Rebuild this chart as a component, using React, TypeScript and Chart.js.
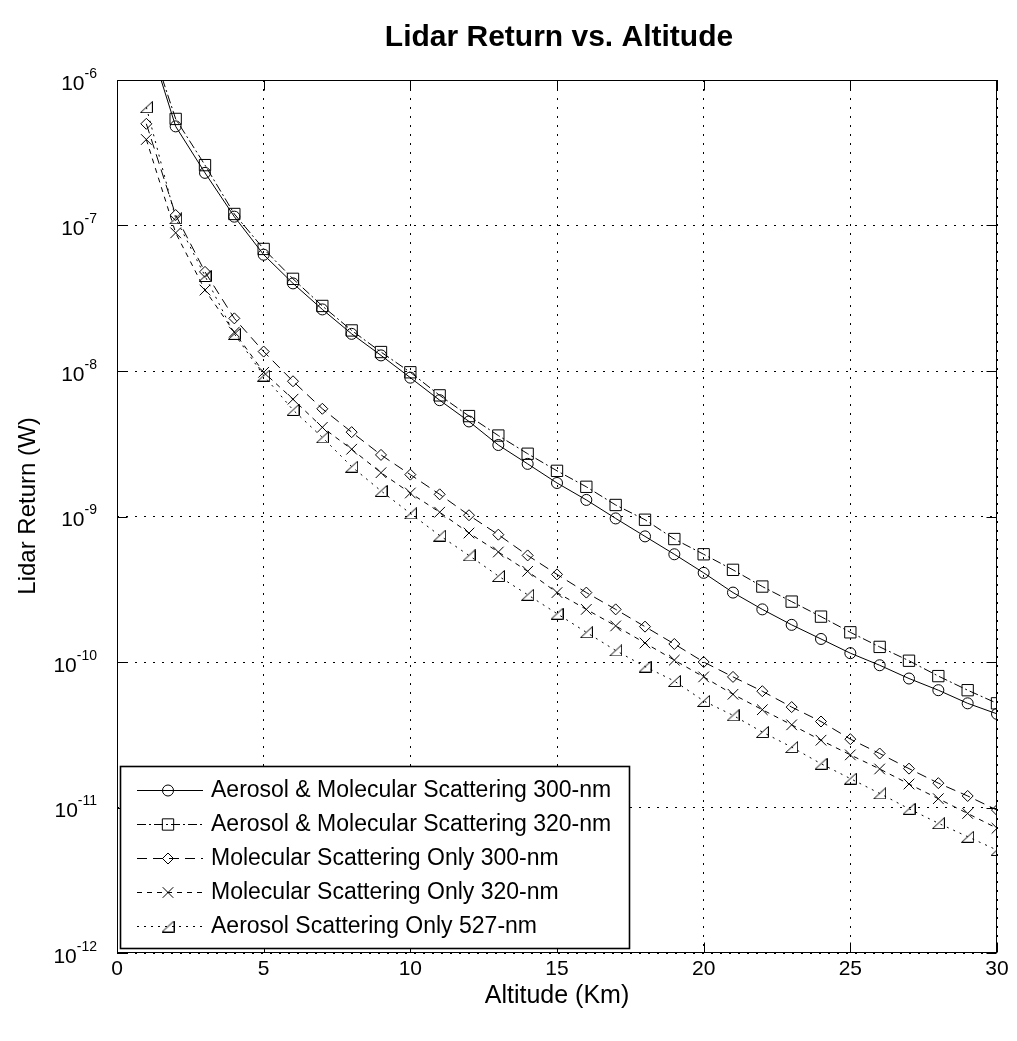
import React, { useEffect, useRef } from 'react';
import { Chart, registerables } from 'chart.js';

Chart.register(...registerables);

// Altitude samples (km)
const altitudeKm = [
  1, 2, 3, 4, 5, 6, 7, 8, 9, 10, 11, 12, 13, 14, 15,
  16, 17, 18, 19, 20, 21, 22, 23, 24, 25, 26, 27, 28, 29, 30,
];

// Lidar return (W) per series
const aeroMol300 = [
  2.1e-6, 4.8e-7, 2.3e-7, 1.15e-7, 6.3e-8, 4.0e-8, 2.65e-8, 1.8e-8, 1.28e-8, 9.0e-9,
  6.3e-9, 4.5e-9, 3.1e-9, 2.3e-9, 1.7e-9, 1.3e-9, 9.7e-10, 7.3e-10, 5.5e-10, 4.1e-10,
  3.0e-10, 2.3e-10, 1.8e-10, 1.44e-10, 1.15e-10, 9.5e-11, 7.7e-11, 6.4e-11, 5.2e-11, 4.4e-11,
];
const aeroMol320 = [
  2.2e-6, 5.4e-7, 2.6e-7, 1.2e-7, 6.9e-8, 4.3e-8, 2.8e-8, 1.9e-8, 1.35e-8, 9.8e-9,
  6.8e-9, 4.9e-9, 3.6e-9, 2.7e-9, 2.06e-9, 1.6e-9, 1.2e-9, 9.5e-10, 7.0e-10, 5.5e-10,
  4.3e-10, 3.3e-10, 2.6e-10, 2.05e-10, 1.6e-10, 1.27e-10, 1.02e-10, 8.0e-11, 6.4e-11, 5.2e-11,
];
const molOnly300 = [
  5.0e-7, 1.18e-7, 4.8e-8, 2.3e-8, 1.36e-8, 8.5e-9, 5.5e-9, 3.8e-9, 2.65e-9, 1.94e-9,
  1.42e-9, 1.02e-9, 7.5e-10, 5.4e-10, 4.0e-10, 3.0e-10, 2.3e-10, 1.75e-10, 1.33e-10, 1.0e-10,
  7.9e-11, 6.3e-11, 4.9e-11, 3.9e-11, 2.95e-11, 2.35e-11, 1.85e-11, 1.47e-11, 1.2e-11, 9.6e-12,
];
const molOnly320 = [
  3.9e-7, 8.9e-8, 3.6e-8, 1.85e-8, 9.8e-9, 6.4e-9, 4.1e-9, 2.9e-9, 2.0e-9, 1.45e-9,
  1.07e-9, 7.7e-10, 5.7e-10, 4.2e-10, 3.0e-10, 2.3e-10, 1.77e-10, 1.35e-10, 1.03e-10, 7.9e-11,
  6.0e-11, 4.7e-11, 3.7e-11, 2.9e-11, 2.3e-11, 1.84e-11, 1.45e-11, 1.15e-11, 9.1e-12, 7.2e-12,
];
const aeroOnly527 = [
  6.5e-7, 1.12e-7, 4.5e-8, 1.8e-8, 9.3e-9, 5.4e-9, 3.5e-9, 2.2e-9, 1.5e-9, 1.05e-9,
  7.4e-10, 5.4e-10, 3.9e-10, 2.9e-10, 2.15e-10, 1.6e-10, 1.2e-10, 9.3e-11, 7.4e-11, 5.4e-11,
  4.3e-11, 3.3e-11, 2.6e-11, 2.0e-11, 1.58e-11, 1.25e-11, 9.8e-12, 7.8e-12, 6.3e-12, 5.1e-12,
];

const seriesLabels = [
  'Aerosol & Molecular Scattering 300-nm',
  'Aerosol & Molecular Scattering 320-nm',
  'Molecular Scattering Only 300-nm',
  'Molecular Scattering Only 320-nm',
  'Aerosol Scattering Only 527-nm',
];
const seriesValues = [aeroMol300, aeroMol320, molOnly300, molOnly320, aeroOnly527];

// Axis ticks
const xTickValues = [0, 5, 10, 15, 20, 25, 30];
const yTickExponents = [-12, -11, -10, -9, -8, -7, -6];

const chartTitle = 'Lidar Return vs. Altitude';
const xAxisTitle = 'Altitude (Km)';
const yAxisTitle = 'Lidar Return (W)';

// Marker and line styling per series
const seriesStyles = [
  { marker: 'circle', radius: 5.5, dash: [] as number[] },
  { marker: 'rect', radius: 8, dash: [9, 3, 2, 3] },
  { marker: 'rectRot', radius: 5.5, dash: [10, 6] },
  { marker: 'crossRot', radius: 7.5, dash: [5, 5] },
  { marker: 'tri', radius: 6, dash: [2, 5] },
];

const FONT = '"Liberation Sans", Arial, Helvetica, sans-serif';
const INK = '#000';

function makeTriangleMarker(): HTMLCanvasElement {
  const c = document.createElement('canvas');
  c.width = 13;
  c.height = 12;
  const g = c.getContext('2d')!;
  g.strokeStyle = INK;
  g.lineWidth = 1;
  g.beginPath();
  g.moveTo(0.5, 11.5);
  g.lineTo(12.5, 11.5);
  g.lineTo(12.5, 0.5);
  g.closePath();
  g.stroke();
  return c;
}

function drawMarker(
  ctx: CanvasRenderingContext2D,
  kind: string,
  r: number,
  x: number,
  y: number,
  tri: HTMLCanvasElement
) {
  ctx.save();
  ctx.setLineDash([]);
  ctx.strokeStyle = INK;
  ctx.lineWidth = 1;
  ctx.beginPath();
  if (kind === 'circle') {
    ctx.arc(x, y, r, 0, Math.PI * 2);
    ctx.stroke();
  } else if (kind === 'rect') {
    const h = r * Math.SQRT1_2;
    ctx.rect(x - h, y - h, 2 * h, 2 * h);
    ctx.stroke();
  } else if (kind === 'rectRot') {
    ctx.moveTo(x, y - r);
    ctx.lineTo(x + r, y);
    ctx.lineTo(x, y + r);
    ctx.lineTo(x - r, y);
    ctx.closePath();
    ctx.stroke();
  } else if (kind === 'crossRot') {
    const d = r * Math.SQRT1_2;
    ctx.moveTo(x - d, y - d);
    ctx.lineTo(x + d, y + d);
    ctx.moveTo(x + d, y - d);
    ctx.lineTo(x - d, y + d);
    ctx.stroke();
  } else if (kind === 'tri') {
    ctx.drawImage(tri, x - tri.width / 2, y - tri.height / 2);
  }
  ctx.restore();
}

export default function App() {
  const canvasRef = useRef<HTMLCanvasElement | null>(null);

  useEffect(() => {
    const canvas = canvasRef.current;
    if (!canvas) return;
    const tri = makeTriangleMarker();

    const datasets = seriesValues.map((vals, i) => {
      const st = seriesStyles[i];
      return {
        label: seriesLabels[i],
        data: altitudeKm.map((x, j) => ({ x, y: vals[j] })),
        borderColor: INK,
        borderWidth: 1,
        borderDash: st.dash,
        tension: 0,
        fill: false,
        pointStyle: st.marker === 'tri' ? tri : st.marker,
        pointRadius: st.radius,
        pointBorderColor: INK,
        pointBorderWidth: 1,
        pointBackgroundColor: 'rgba(0,0,0,0)',
      };
    });

    const overlay = {
      id: 'figureOverlay',
      afterDraw(chart: any) {
        const { ctx, chartArea: a, scales } = chart;
        const xs = scales.x;
        const ys = scales.y;
        ctx.save();
        ctx.setLineDash([]);
        ctx.strokeStyle = INK;
        ctx.fillStyle = INK;
        ctx.lineWidth = 1;

        // Axes box
        const L = Math.round(a.left) + 0.5;
        const R = Math.round(a.right) - 0.5;
        const T = Math.round(a.top) + 0.5;
        const B = Math.round(a.bottom) - 0.5;
        ctx.strokeRect(L, T, R - L, B - T);

        // Inward tick marks
        const tl = 10;
        ctx.beginPath();
        xTickValues.forEach((v) => {
          const px = Math.round(xs.getPixelForValue(v)) + 0.5;
          ctx.moveTo(px, B);
          ctx.lineTo(px, B - tl);
          ctx.moveTo(px, T);
          ctx.lineTo(px, T + tl);
        });
        yTickExponents.forEach((e) => {
          const py = Math.round(ys.getPixelForValue(Math.pow(10, e))) + 0.5;
          ctx.moveTo(L, py);
          ctx.lineTo(L + tl, py);
          ctx.moveTo(R, py);
          ctx.lineTo(R - tl, py);
        });
        ctx.stroke();

        // X tick labels
        ctx.font = `21px ${FONT}`;
        ctx.textAlign = 'center';
        ctx.textBaseline = 'middle';
        xTickValues.forEach((v) => {
          ctx.fillText(String(v), xs.getPixelForValue(v), 969);
        });

        // Y tick labels as 10 with superscript exponent
        yTickExponents.forEach((e) => {
          const py = ys.getPixelForValue(Math.pow(10, e));
          const sup = String(e);
          ctx.font = `14px ${FONT}`;
          const supW = ctx.measureText(sup).width;
          const right = 97;
          ctx.textAlign = 'left';
          ctx.fillText(sup, right - supW, py - 6);
          ctx.font = `21px ${FONT}`;
          ctx.textAlign = 'right';
          ctx.fillText('10', right - supW, py + 4);
        });

        // Axis titles
        ctx.font = `25px ${FONT}`;
        ctx.textAlign = 'center';
        ctx.fillText(xAxisTitle, (a.left + a.right) / 2, 996);
        ctx.font = `24px ${FONT}`;
        ctx.save();
        ctx.translate(28, 506);
        ctx.rotate(-Math.PI / 2);
        ctx.fillText(yAxisTitle, 0, 0);
        ctx.restore();

        // Title
        ctx.font = `bold 30px ${FONT}`;
        ctx.fillText(chartTitle, (a.left + a.right) / 2 + 2, 38);

        // Legend box inside the axes
        const lx = 120.5, ly = 766.5, lw = 509, lh = 182;
        ctx.fillStyle = '#fff';
        ctx.fillRect(lx, ly, lw, lh);
        ctx.lineWidth = 1.6;
        ctx.strokeStyle = INK;
        ctx.strokeRect(lx, ly, lw, lh);
        ctx.fillStyle = INK;
        const rowY = [790, 824, 858, 892, 926];
        seriesLabels.forEach((label, i) => {
          const st = seriesStyles[i];
          const y = rowY[i];
          ctx.save();
          ctx.lineWidth = 1;
          ctx.setLineDash(st.dash);
          ctx.beginPath();
          ctx.moveTo(137, y + 0.5);
          ctx.lineTo(203, y + 0.5);
          ctx.stroke();
          ctx.restore();
          drawMarker(ctx, st.marker, st.radius, 168, y + 0.5, tri);
          ctx.font = `23px ${FONT}`;
          ctx.textAlign = 'left';
          ctx.textBaseline = 'middle';
          ctx.fillText(label, 211, y + 1);
        });

        ctx.restore();
      },
    };

    const chart = new Chart(canvas, {
      type: 'line',
      data: { datasets },
      options: {
        animation: false,
        responsive: false,
        devicePixelRatio: 1,
        layout: { padding: { top: 80, right: 20, left: 0, bottom: 0 } },
        plugins: {
          legend: { display: false },
          title: { display: false },
          tooltip: { enabled: false },
        },
        scales: {
          x: {
            type: 'linear',
            min: 0,
            max: 30,
            afterBuildTicks: (s: any) => {
              s.ticks = xTickValues.map((v) => ({ value: v }));
            },
            afterFit: (s: any) => {
              s.height = 88;
            },
            ticks: { display: false },
            grid: { color: INK, lineWidth: 1, drawTicks: false },
            border: { display: false, dash: [2, 7] },
          },
          y: {
            type: 'logarithmic',
            min: 1e-12,
            max: 1e-6,
            afterBuildTicks: (s: any) => {
              s.ticks = yTickExponents.map((e) => ({ value: Math.pow(10, e) }));
            },
            afterFit: (s: any) => {
              s.width = 117;
            },
            ticks: { display: false },
            grid: { color: INK, lineWidth: 1, drawTicks: false },
            border: { display: false, dash: [2, 7] },
          },
        },
      },
      plugins: [overlay],
    } as any);

    return () => chart.destroy();
  }, []);

  return (
    <div style={{ position: 'absolute', left: 0, top: 0, width: 1017, height: 1041, background: '#fff' }}>
      <canvas ref={canvasRef} width={1017} height={1041} style={{ display: 'block' }} />
    </div>
  );
}
